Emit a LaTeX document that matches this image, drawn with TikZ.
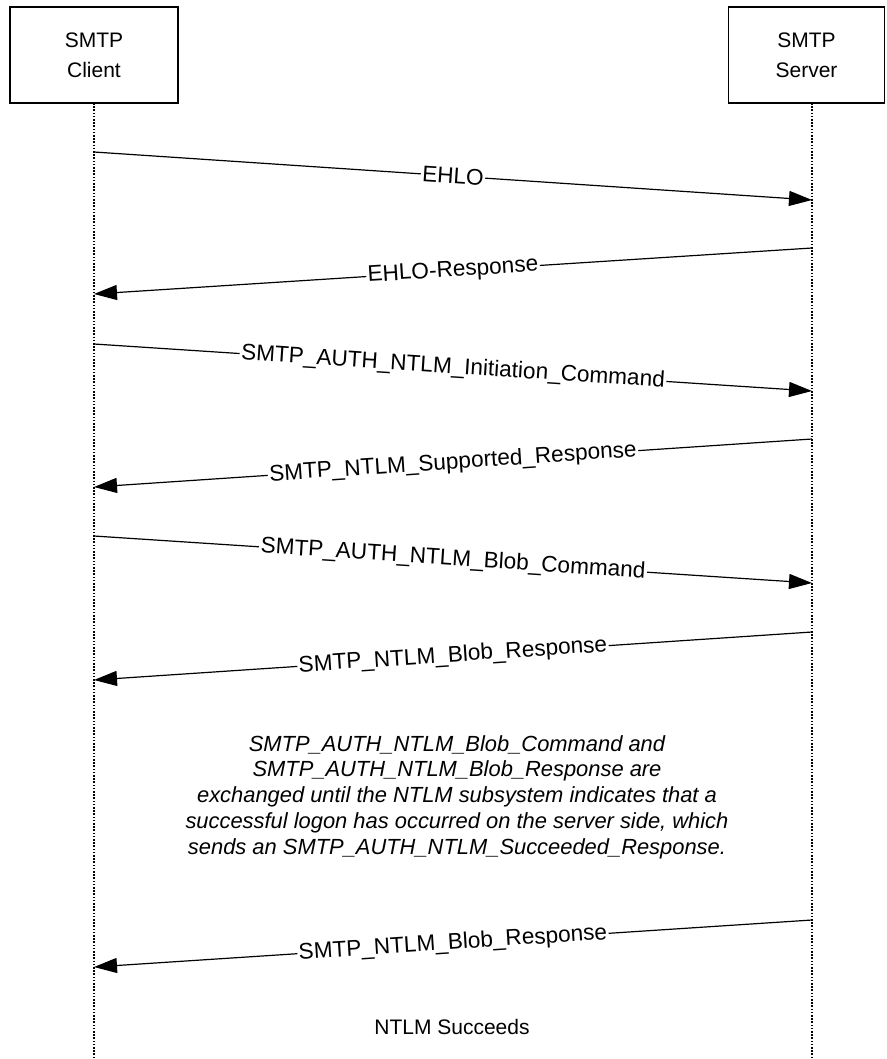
\documentclass[tikz,border=0pt]{standalone}
\usepackage{fontspec}
\setmainfont{Liberation Sans}
\usetikzlibrary{arrows.meta,positioning}
\begin{document}
\begin{tikzpicture}[x=1pt, y=-1pt,
    every node/.style={font=\fontsize{21}{25.8}\selectfont},
    teilnehmer/.style={draw, line width=1.2pt, minimum height=96pt, align=center,
      font=\fontsize{21}{30}\selectfont},
    lebenslinie/.style={line width=1.1pt, dash pattern=on 1.6pt off 1.6pt},
    nachricht/.style={line width=1.2pt, -{Triangle[length=23pt,width=15pt]}},
    beschriftung/.style={midway, sloped, fill=white, inner sep=1.5pt,
      font=\fontsize{22.6}{26}\selectfont}]
    \useasboundingbox (0,0) rectangle (886,1059);

    % Teilnehmer
    \node[teilnehmer, minimum width=168pt] (client) at (94,55) {SMTP\\Client};
    \node[teilnehmer, minimum width=156pt] (server) at (806.5,55) {SMTP\\Server};

    % Lebenslinien
    \coordinate (cs) at (94,103);   \coordinate (ce) at (94,1059);
    \coordinate (ss) at (812,103);  \coordinate (se) at (812,1059);
    \draw[lebenslinie] (cs) -- (ce);
    \draw[lebenslinie] (ss) -- (se);

    % Nachrichten: Client -> Server
    \coordinate (c1) at (94,152);  \coordinate (s1) at (812,200);
    \coordinate (c3) at (94,344);  \coordinate (s3) at (812,391);
    \coordinate (c5) at (94,536);  \coordinate (s5) at (812,583);
    \draw[nachricht] (c1) -- node[beschriftung] {EHLO} (s1);
    \draw[nachricht] (c3) -- node[beschriftung] {SMTP\_AUTH\_NTLM\_Initiation\_Command} (s3);
    \draw[nachricht] (c5) -- node[beschriftung] {SMTP\_AUTH\_NTLM\_Blob\_Command} (s5);

    % Nachrichten: Server -> Client
    \coordinate (s2) at (812,248);  \coordinate (c2) at (94,294);
    \coordinate (s4) at (812,439);  \coordinate (c4) at (94,487);
    \coordinate (s6) at (812,632);  \coordinate (c6) at (94,680);
    \coordinate (s7) at (812,920);  \coordinate (c7) at (94,967);
    \draw[nachricht] (s2) -- node[beschriftung] {EHLO-Response} (c2);
    \draw[nachricht] (s4) -- node[beschriftung] {SMTP\_NTLM\_Supported\_Response} (c4);
    \draw[nachricht] (s6) -- node[beschriftung] {SMTP\_NTLM\_Blob\_Response} (c6);
    \draw[nachricht] (s7) -- node[beschriftung] {SMTP\_NTLM\_Blob\_Response} (c7);

    % Hinweis
    \node[align=center, font=\fontsize{21.9}{25.8}\selectfont\itshape] (hinweis) at (457,797)
      {SMTP\_AUTH\_NTLM\_Blob\_Command and\\
       SMTP\_AUTH\_NTLM\_Blob\_Response are\\
       exchanged until the NTLM subsystem indicates that a\\
       successful logon has occurred on the server side, which\\
       sends an SMTP\_AUTH\_NTLM\_Succeeded\_Response.};
    \node (ergebnis) at (452,1027) {NTLM Succeeds};
  \end{tikzpicture}
\end{document}
